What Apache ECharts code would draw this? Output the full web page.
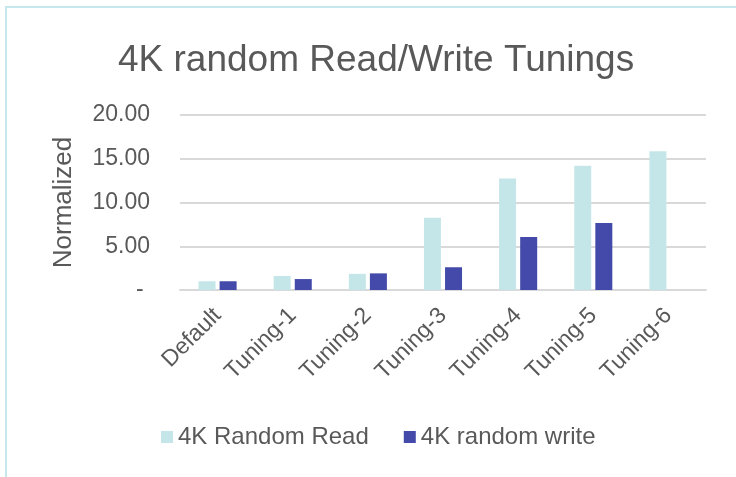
<!DOCTYPE html>
<html>
<head>
<meta charset="utf-8">
<script src="https://cdn.jsdelivr.net/npm/echarts@6/dist/echarts.min.js"></script>
<style>
  html, body { margin: 0; padding: 0; background: #fff; }
  #frame {
    position: absolute; left: 5px; top: 6px; width: 800px; height: 500px;
    border-left: 2px solid #c6e8ec; border-top: 2px solid #c6e8ec;
  }
  #chart { position: absolute; left: 0; top: 0; width: 736px; height: 477px; }
</style>
</head>
<body>
<div id="frame"></div>
<div id="chart"></div>
<script>
// Tuning steps along the x axis
const categories = ['Default', 'Tuning-1', 'Tuning-2', 'Tuning-3', 'Tuning-4', 'Tuning-5', 'Tuning-6'];
// Normalized throughput per tuning step
const randomRead  = [1.0, 1.6, 1.85, 8.25, 12.75, 14.2, 15.85];
const randomWrite = [1.0, 1.25, 1.9, 2.6, 6.05, 7.65, null];
const seriesNames = ['4K Random Read', '4K random write'];

const FONT = '"Liberation Sans", Arial, sans-serif';
const TEXT = '#595959';

const chart = echarts.init(document.getElementById('chart'), null, { renderer: 'canvas' });
chart.setOption({
  animation: false,
  backgroundColor: 'transparent',
  title: {
    text: '4K random Read/Write Tunings',
    left: 113,
    top: 37,
    textStyle: { fontFamily: FONT, fontSize: 37, fontWeight: 'normal', color: TEXT }
  },
  grid: { left: 180, right: 30, top: 115, bottom: 187, containLabel: false },
  legend: {
    left: 156,
    top: 420,
    itemWidth: 12,
    itemHeight: 12,
    itemGap: 35,
    icon: 'rect',
    textStyle: { fontFamily: FONT, fontSize: 24, color: TEXT },
    data: seriesNames
  },
  xAxis: {
    type: 'category',
    data: categories,
    axisLine: { show: true, lineStyle: { color: '#d9d9d9', width: 2 } },
    axisTick: { show: false },
    axisLabel: {
      rotate: 45,
      margin: 22,
      fontFamily: FONT,
      fontSize: 23,
      color: TEXT
    }
  },
  yAxis: {
    type: 'value',
    min: 0,
    max: 20,
    interval: 5,
    name: 'Normalized',
    nameLocation: 'middle',
    nameGap: 103,
    nameRotate: 90,
    nameTextStyle: { fontFamily: FONT, fontSize: 26, color: TEXT },
    axisLine: { show: false },
    axisTick: { show: false },
    splitLine: { lineStyle: { color: '#d9d9d9', width: 2 } },
    axisLabel: {
      margin: 30,
      fontFamily: FONT,
      fontSize: 23,
      color: TEXT,
      formatter: v => (v === 0 ? '- ' : v.toFixed(2))
    }
  },
  series: [
    {
      name: seriesNames[0],
      type: 'bar',
      data: randomRead,
      barWidth: 17,
      barGap: '24%',
      itemStyle: { color: '#c5e6e8' }
    },
    {
      name: seriesNames[1],
      type: 'bar',
      data: randomWrite,
      barWidth: 17,
      itemStyle: { color: '#434aa9' }
    }
  ]
});
</script>
</body>
</html>
